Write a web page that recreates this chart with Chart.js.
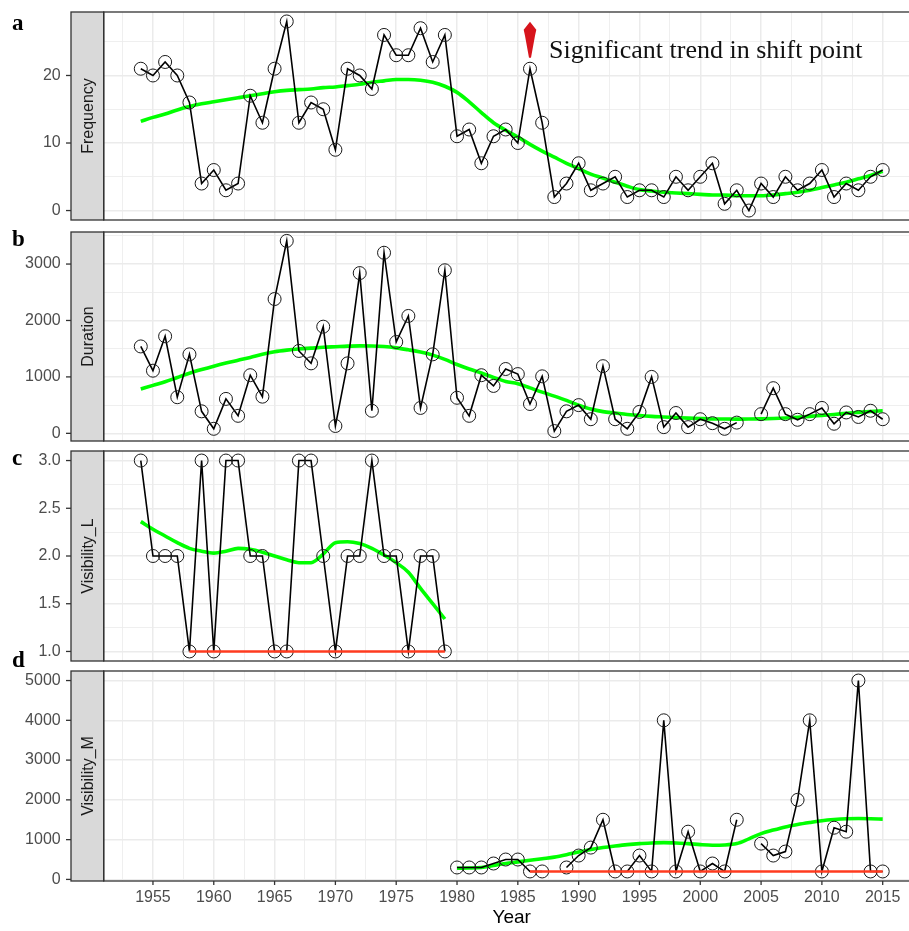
<!DOCTYPE html>
<html>
<head>
<meta charset="utf-8">
<title>Shift point trends</title>
<script src="https://cdn.jsdelivr.net/npm/chart.js@4/dist/chart.umd.min.js"></script>
<style>
  html, body { margin: 0; padding: 0; background: #fff; width: 909px; height: 931px; overflow: hidden; }
  .panel { position: absolute; left: 0; }
  .tag { position: absolute; left: 12px; line-height: 1; font: bold 23px "Liberation Serif", "Times New Roman", serif; color: #000; }
</style>
</head>
<body>
<canvas class="panel" id="chartA" width="921" height="212" style="top:10px"></canvas>
<canvas class="panel" id="chartB" width="921" height="213" style="top:230px"></canvas>
<canvas class="panel" id="chartC" width="921" height="214" style="top:449px"></canvas>
<canvas class="panel" id="chartD" width="921" height="262" style="top:669px"></canvas>
<div class="tag" style="top:10px">a</div>
<div class="tag" style="top:226px">b</div>
<div class="tag" style="top:445px">c</div>
<div class="tag" style="top:647px">d</div>
<script>
// ---- data ----
var years = [1954,1955,1956,1957,1958,1959,1960,1961,1962,1963,
             1964,1965,1966,1967,1968,1969,1970,1971,1972,1973,
             1974,1975,1976,1977,1978,1979,1980,1981,1982,1983,
             1984,1985,1986,1987,1988,1989,1990,1991,1992,1993,
             1994,1995,1996,1997,1998,1999,2000,2001,2002,2003,
             2004,2005,2006,2007,2008,2009,2010,2011,2012,2013,2014,2015];

var frequency = [21,20,22,20,16,4,6,3,4,17,
                 13,21,28,13,16,15,9,21,20,18,
                 26,23,23,27,22,26,11,12,7,11,
                 12,10,21,13,2,4,7,3,4,5,
                 2,3,3,2,5,3,5,7,1,3,
                 0,4,2,5,3,4,6,2,4,3,5,6];
var frequencySmooth = [13.2,13.8,14.3,14.9,15.4,15.8,16.1,16.4,16.7,17.0,
                       17.3,17.6,17.8,17.9,18.0,18.2,18.3,18.5,18.7,19.0,
                       19.2,19.4,19.4,19.3,19.0,18.4,17.5,16.1,14.5,13.0,
                       11.9,10.9,9.8,8.8,7.9,7.0,6.2,5.4,4.8,4.2,
                       3.6,3.1,2.9,2.7,2.6,2.5,2.4,2.3,2.3,2.2,
                       2.2,2.2,2.3,2.5,2.7,3.0,3.4,3.8,4.2,4.7,5.2,5.8];

var duration = [1540,1110,1720,640,1400,390,80,610,310,1030,
                650,2380,3410,1460,1240,1890,130,1240,2840,400,
                3200,1620,2080,450,1400,2890,630,310,1030,840,
                1140,1050,520,1010,40,390,500,250,1190,250,
                80,380,1000,110,360,110,250,180,80,190,
                null,340,800,340,240,340,450,170,370,290,400,250];
var durationSmooth = [784,850,913,990,1065,1130,1190,1245,1295,1345,
                      1400,1445,1474,1495,1510,1525,1535,1545,1550,1548,
                      1538,1515,1480,1440,1386,1310,1220,1140,1070,990,
                      920,880,805,730,660,585,500,430,385,360,
                      335,315,300,290,280,270,262,255,253,252,
                      253,256,262,272,285,300,318,335,355,372,388,400];

var visLYears = years.slice(0, 26);
var visibilityL = [3,2,2,2,1,3,1,3,3,2,2,1,1,3,3,2,1,2,2,3,2,2,1,2,2,1];
var visibilityLSmooth = [2.36,2.28,2.21,2.14,2.08,2.05,2.03,2.05,2.08,2.07,
                         2.04,2.00,1.96,1.93,1.93,2.02,2.14,2.15,2.13,2.08,
                         2.01,1.93,1.83,1.66,1.50,1.34];
var visLFloorYears = [1958, 1979];
var visLFloor = [1, 1];

var visMYears = years.slice(26);
var visibilityM = [300,300,300,400,500,500,200,200,null,300,
                   600,800,1500,200,200,600,200,4000,200,1200,
                   200,400,200,1500,null,900,600,700,2000,4000,
                   200,1300,1200,5000,200,200];
var visibilityMSmooth = [280,285,300,350,400,440,480,520,560,620,
                         690,750,800,840,875,900,915,925,915,900,
                         875,860,865,900,1020,1150,1240,1320,1380,1430,
                         1475,1505,1525,1530,1525,1515];
var visMFloorYears = [1986, 2015];
var visMFloor = [200, 200];

// axis ticks / grid
var xGrid = [1952.5,1955,1957.5,1960,1962.5,1965,1967.5,1970,1972.5,1975,1977.5,1980,
             1982.5,1985,1987.5,1990,1992.5,1995,1997.5,2000,2002.5,2005,2007.5,2010,2012.5,2015,2017.5];
var xLabels = [1955,1960,1965,1970,1975,1980,1985,1990,1995,2000,2005,2010,2015];

var noteYear = 1986, noteValue = 21;
var noteText = 'Significant trend in shift point';

// ---- chart helpers ----
var LEFT = 103.7;
var sans = '"Liberation Sans", Arial, sans-serif';

function pts(xs, ys) {
  return xs.map(function (x, i) { return { x: x, y: ys[i] }; });
}

function xAxis(showLabels) {
  return {
    type: 'linear', min: 1950.95, max: 2018.05,
    afterBuildTicks: function (s) { s.ticks = xGrid.map(function (v) { return { value: v }; }); },
    afterFit: function (s) {
      s.height = showLabels ? 50 : 0;
      s.paddingLeft = s.paddingRight = s.paddingTop = s.paddingBottom = 0;
    },
    grid: {
      color: '#ebebeb', drawTicks: false,
      lineWidth: function (c) { return c.tick && xLabels.indexOf(c.tick.value) >= 0 ? 1.5 : 0.8; }
    },
    border: { display: false },
    ticks: {
      display: showLabels, autoSkip: false, maxRotation: 0, padding: 7,
      color: '#4d4d4d', font: { family: sans, size: 16 },
      callback: function (v) { return xLabels.indexOf(v) >= 0 ? String(v) : ''; }
    },
    title: {
      display: showLabels, text: 'Year', color: '#000',
      font: { family: sans, size: 19 }, padding: { top: 0, bottom: 2 }
    }
  };
}

function yAxis(min, max, grid, major, fmt) {
  return {
    type: 'linear', min: min, max: max,
    afterBuildTicks: function (s) { s.ticks = grid.map(function (v) { return { value: v }; }); },
    afterFit: function (s) {
      s.width = LEFT;
      s.paddingLeft = s.paddingRight = s.paddingTop = s.paddingBottom = 0;
    },
    grid: {
      color: '#ebebeb', drawTicks: false,
      lineWidth: function (c) { return c.tick && major.indexOf(c.tick.value) >= 0 ? 1.5 : 0.8; }
    },
    border: { display: false },
    ticks: {
      padding: 43, color: '#4d4d4d', font: { family: sans, size: 16 },
      callback: function (v) { return major.indexOf(v) >= 0 ? fmt(v) : ''; }
    }
  };
}

var panelDecor = {
  id: 'panelDecor',
  beforeDraw: function (chart) {
    var ctx = chart.ctx, a = chart.chartArea;
    ctx.save();
    ctx.fillStyle = '#fff';
    ctx.fillRect(a.left, a.top, a.right - a.left, a.bottom - a.top);
    ctx.restore();
  },
  afterDraw: function (chart, args, opts) {
    var ctx = chart.ctx, a = chart.chartArea;
    var sx = 71, sw = a.left - sx, h = a.bottom - a.top;
    ctx.save();
    ctx.strokeStyle = '#333';
    ctx.lineWidth = 1.3;
    // strip
    ctx.fillStyle = '#d9d9d9';
    ctx.fillRect(sx, a.top, sw, h);
    ctx.strokeRect(sx, a.top, sw, h);
    // panel border
    ctx.strokeRect(a.left, a.top, a.right - a.left, h);
    // y tick marks
    var y = chart.scales.y;
    opts.yMajor.forEach(function (v) {
      var p = y.getPixelForValue(v);
      ctx.beginPath(); ctx.moveTo(66, p); ctx.lineTo(71, p); ctx.stroke();
    });
    if (opts.xTicks) {
      var x = chart.scales.x;
      xLabels.forEach(function (v) {
        var p = x.getPixelForValue(v);
        ctx.beginPath(); ctx.moveTo(p, a.bottom); ctx.lineTo(p, a.bottom + 4); ctx.stroke();
      });
    }
    // strip label
    ctx.translate(sx + sw / 2, a.top + h / 2);
    ctx.rotate(-Math.PI / 2);
    ctx.fillStyle = '#1a1a1a';
    ctx.font = '16px ' + sans;
    ctx.textAlign = 'center';
    ctx.textBaseline = 'middle';
    ctx.fillText(opts.strip, 0, 1);
    ctx.restore();
  }
};

var shiftNote = {
  id: 'shiftNote',
  afterDatasetsDraw: function (chart) {
    var ctx = chart.ctx;
    var px = chart.scales.x.getPixelForValue(noteYear);
    var py = chart.scales.y.getPixelForValue(noteValue);
    ctx.save();
    ctx.fillStyle = '#d7141c';
    ctx.beginPath();
    ctx.moveTo(px, py - 47);
    ctx.lineTo(px + 6.3, py - 39);
    ctx.lineTo(px + 5, py - 33);
    ctx.lineTo(px + 1, py - 11);
    ctx.lineTo(px - 1, py - 11);
    ctx.lineTo(px - 5, py - 33);
    ctx.lineTo(px - 6.3, py - 39);
    ctx.closePath();
    ctx.fill();
    ctx.fillStyle = '#111';
    ctx.font = '26px "Liberation Serif", "Times New Roman", serif';
    ctx.textBaseline = 'alphabetic';
    ctx.fillText(noteText, px + 19, py - 11);
    ctx.restore();
  }
};

function seriesSet(xs, ys) {
  return {
    data: pts(xs, ys), borderColor: '#000', borderWidth: 1.6, spanGaps: false,
    pointRadius: 6.5, pointBorderWidth: 1, pointBorderColor: '#1a1a1a',
    pointBackgroundColor: 'rgba(0,0,0,0)', order: 1
  };
}
function smoothSet(xs, ys) {
  return {
    data: pts(xs, ys), borderColor: '#00ff00', borderWidth: 3.6, pointRadius: 0,
    cubicInterpolationMode: 'monotone', spanGaps: true, order: 2
  };
}
function floorSet(xs, ys) {
  return { data: pts(xs, ys), borderColor: '#ff3b1f', borderWidth: 2.6, pointRadius: 0, order: 0 };
}

function makeChart(id, datasets, y, strip, yMajor, bottom, extra) {
  return new Chart(document.getElementById(id), {
    type: 'line',
    data: { datasets: datasets },
    options: {
      responsive: false, animation: false, events: [],
      layout: { autoPadding: false, padding: { top: 2, bottom: bottom ? 0 : 2, left: 0, right: 1.2 } },
      plugins: { legend: { display: false }, tooltip: { enabled: false },
                 panelDecor: { strip: strip, yMajor: yMajor, xTicks: bottom } },
      scales: { x: xAxis(bottom), y: y }
    },
    plugins: [panelDecor].concat(extra || [])
  });
}

makeChart('chartA',
  [seriesSet(years, frequency), smoothSet(years, frequencySmooth)],
  yAxis(-1.4, 29.4, [0, 5, 10, 15, 20, 25], [0, 10, 20], String),
  'Frequency', [0, 10, 20], false, [shiftNote]);

makeChart('chartB',
  [seriesSet(years, duration), smoothSet(years, durationSmooth)],
  yAxis(-136, 3568, [0, 500, 1000, 1500, 2000, 2500, 3000, 3500], [0, 1000, 2000, 3000], String),
  'Duration', [0, 1000, 2000, 3000], false);

makeChart('chartC',
  [seriesSet(visLYears, visibilityL), smoothSet(visLYears, visibilityLSmooth), floorSet(visLFloorYears, visLFloor)],
  yAxis(0.9, 3.1, [1, 1.25, 1.5, 1.75, 2, 2.25, 2.5, 2.75, 3], [1, 1.5, 2, 2.5, 3],
        function (v) { return v.toFixed(1); }),
  'Visibility_L', [1, 1.5, 2, 2.5, 3], false);

makeChart('chartD',
  [seriesSet(visMYears, visibilityM), smoothSet(visMYears, visibilityMSmooth), floorSet(visMFloorYears, visMFloor)],
  yAxis(-40, 5240, [0, 500, 1000, 1500, 2000, 2500, 3000, 3500, 4000, 4500, 5000],
        [0, 1000, 2000, 3000, 4000, 5000], String),
  'Visibility_M', [0, 1000, 2000, 3000, 4000, 5000], true);
</script>
</body>
</html>
